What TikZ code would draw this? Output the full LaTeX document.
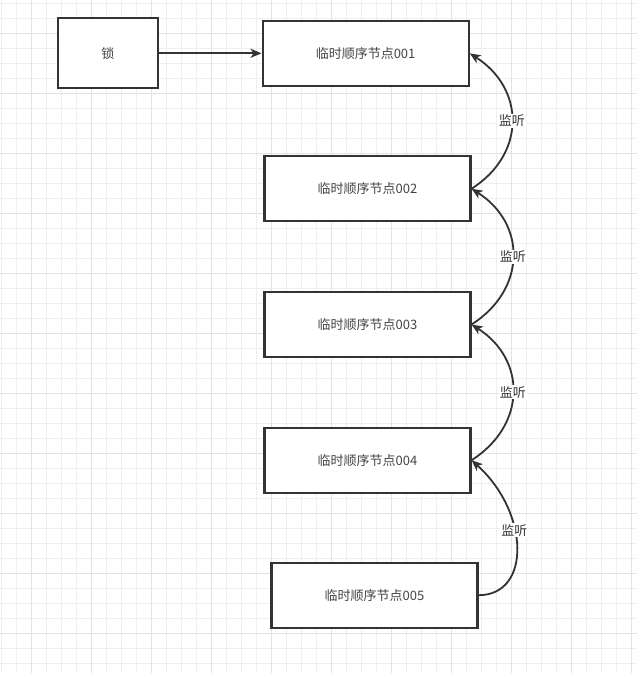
\documentclass[tikz,border=0pt]{standalone}
\usepackage{fontspec}
\newfontfamily\cjk{Noto Sans CJK SC}
\usetikzlibrary{arrows.meta}
\definecolor{ln}{HTML}{333333}
\definecolor{txt}{HTML}{444444}
\definecolor{gridminor}{HTML}{EFEFEF}
\definecolor{gridmajor}{HTML}{E2E2E2}
\begin{document}
\begin{tikzpicture}[x=1pt,y=-1pt,
  box/.style={draw=ln,line width=2.1pt,fill=white,text=txt,font=\cjk\fontsize{13}{15}\selectfont,minimum width=206,minimum height=65},
  conn/.style={draw=ln,line width=1.8pt,-{Stealth[length=11,width=9,inset=3]}},
  lbl/.style={fill=white,inner sep=1pt,text=ln,font=\cjk\fontsize{13}{15}\selectfont}]
\useasboundingbox (0,0) rectangle (637,673);
\fill[white] (0,0) rectangle (637,673);
% grid
\foreach \i in {0,...,42} {
  \draw[gridminor,line width=0.8pt] ({1.7+15*\i},0) -- ({1.7+15*\i},673);
}
\foreach \i in {0,...,44} {
  \draw[gridminor,line width=0.8pt] (0,{3.3+15*\i}) -- (637,{3.3+15*\i});
}
\foreach \i in {0,...,10} {
  \draw[gridmajor,line width=0.9pt] ({31.7+60*\i},0) -- ({31.7+60*\i},673);
}
\foreach \i in {0,...,10} {
  \draw[gridmajor,line width=0.9pt] (0,{33.3+60*\i}) -- (637,{33.3+60*\i});
}
% nodes
\node[box,minimum width=100,minimum height=70] (lock) at (107.8,53.3) {锁};
\node[box] (n1) at (365.6,53.3) {临时顺序节点001};
\node[box] (n2) at (367.5,188.7) {临时顺序节点002};
\node[box] (n3) at (367.5,324.5) {临时顺序节点003};
\node[box] (n4) at (367.5,460.2) {临时顺序节点004};
\node[box] (n5) at (374.5,595.2) {临时顺序节点005};
% connectors
\draw[conn] (lock.east) -- (n1.west);
\draw[conn] (n2.east) .. controls +(55,-35) and +(55,35) .. (n1.east)
  node[lbl,pos=0.5] {监听};
\draw[conn] (n3.east) .. controls +(55,-35) and +(55,35) .. (n2.east)
  node[lbl,pos=0.5] {监听};
\draw[conn] (n4.east) .. controls +(55,-35) and +(55,35) .. (n3.east)
  node[lbl,pos=0.5] {监听};
\draw[conn] (n5.east) .. controls +(53,0) and +(58,52) .. (n4.east)
  node[lbl,pos=0.6] {监听};
\end{tikzpicture}
\end{document}
